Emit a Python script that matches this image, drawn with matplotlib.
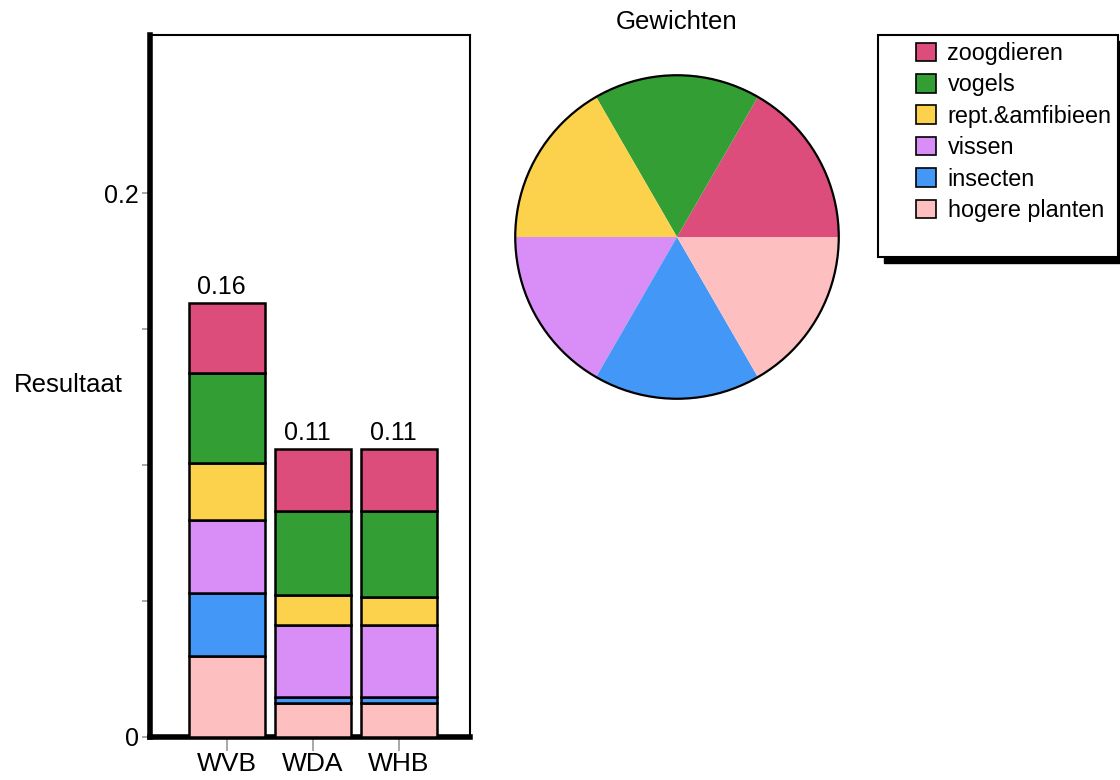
import matplotlib.pyplot as plt
from matplotlib.patches import Rectangle, Circle

plt.rcParams['font.family'] = ['Liberation Sans', 'DejaVu Sans']

# data
stations = ['WVB', 'WDA', 'WHB']
groups = ['zoogdieren', 'vogels', 'rept.&amfibieen', 'vissen', 'insecten', 'hogere planten']
colors = ['#DC4D7C', '#339E33', '#FCD14C', '#D98EF7', '#4397F7', '#FDBFBF']

hogere_planten = [0.0298, 0.0126, 0.0126]
insecten = [0.0233, 0.0020, 0.0020]
vissen = [0.0266, 0.0267, 0.0267]
reptielen = [0.0212, 0.0110, 0.0102]
vogels = [0.0331, 0.0307, 0.0315]
zoogdieren = [0.0254, 0.0230, 0.0230]
totals = ['0.16', '0.11', '0.11']

weights = [1, 1, 1, 1, 1, 1]

fig = plt.figure(figsize=(11.2, 7.8), dpi=100)

# ---- stacked bars ----
ax = fig.add_axes([150 / 1120, 43 / 780, 320 / 1120, 702 / 780])
stack = [hogere_planten, insecten, vissen, reptielen, vogels, zoogdieren]
stack_colors = colors[::-1]
x = list(range(len(stations)))
bottom = [0.0] * len(stations)
for vals, col in zip(stack, stack_colors):
    ax.bar(x, vals, width=0.88, bottom=bottom, color=col,
           edgecolor='black', linewidth=1.8, zorder=3)
    bottom = [b + v for b, v in zip(bottom, vals)]

for xi, top, lab in zip(x, bottom, totals):
    ax.text(xi - 0.07, top + 0.0015, lab, ha='center', va='bottom', fontsize=18)

ax.set_xlim(-0.895, 2.826)
ax.set_ylim(0, 0.2581)
ax.set_xticks(x)
ax.set_xticklabels(stations, fontsize=19)
ax.set_yticks([0, 0.05, 0.1, 0.15, 0.2])
ax.set_yticklabels(['0', '', '', '', '0.2'], fontsize=18)
ax.tick_params(axis='x', length=10, width=1.2, color='#999999', pad=1)
ax.tick_params(axis='y', length=6, width=1.2, color='#999999', pad=2)
ax.spines['left'].set_linewidth(4)
ax.spines['bottom'].set_linewidth(4)
ax.spines['top'].set_linewidth(1.5)
ax.spines['right'].set_linewidth(1.5)

fig.text(68 / 1120, 1 - 385 / 780, 'Resultaat', ha='center', va='center', fontsize=18.5)

# ---- pie ----
r = 165
pax = fig.add_axes([(677 - r) / 1120, (780 - 237 - r) / 780, 2 * r / 1120, 2 * r / 780])
pax.pie(weights, colors=colors, startangle=0, counterclock=True,
        wedgeprops={'linewidth': 0})
pax.add_patch(Circle((0, 0), 1.0, fill=False, edgecolor='black', linewidth=1.6))
pax.set_xlim(-1.02, 1.02)
pax.set_ylim(-1.02, 1.02)
pax.set_aspect('equal')
pax.axis('off')
fig.text(677 / 1120, 1 - 22 / 780, 'Gewichten', ha='center', va='center', fontsize=18.5)

# ---- legend with black drop shadow ----
lx0, ly0, lx1, ly1 = 878, 35, 1118, 257
fig.patches.append(Rectangle(((lx0 + 6) / 1120, 1 - (ly1 + 6) / 780), (lx1 - lx0) / 1120,
                             (ly1 - ly0) / 780, transform=fig.transFigure,
                             facecolor='black', edgecolor='black', zorder=1))
fig.patches.append(Rectangle((lx0 / 1120, 1 - ly1 / 780), (lx1 - lx0) / 1120,
                             (ly1 - ly0) / 780, transform=fig.transFigure,
                             facecolor='white', edgecolor='black', linewidth=1.5, zorder=2))
handles = [Rectangle((0, 0), 1, 1, facecolor=c, edgecolor='black', linewidth=1.2) for c in colors]
leg = fig.legend(handles, groups, loc='upper left', bbox_to_anchor=(916 / 1120, 1 - 42 / 780),
                 frameon=False, fontsize=16.8, handlelength=0.85, handleheight=0.85,
                 handletextpad=0.5, labelspacing=0.36, borderpad=0, borderaxespad=0)
leg.set_zorder(5)

fig.savefig('out.png', dpi=100)
